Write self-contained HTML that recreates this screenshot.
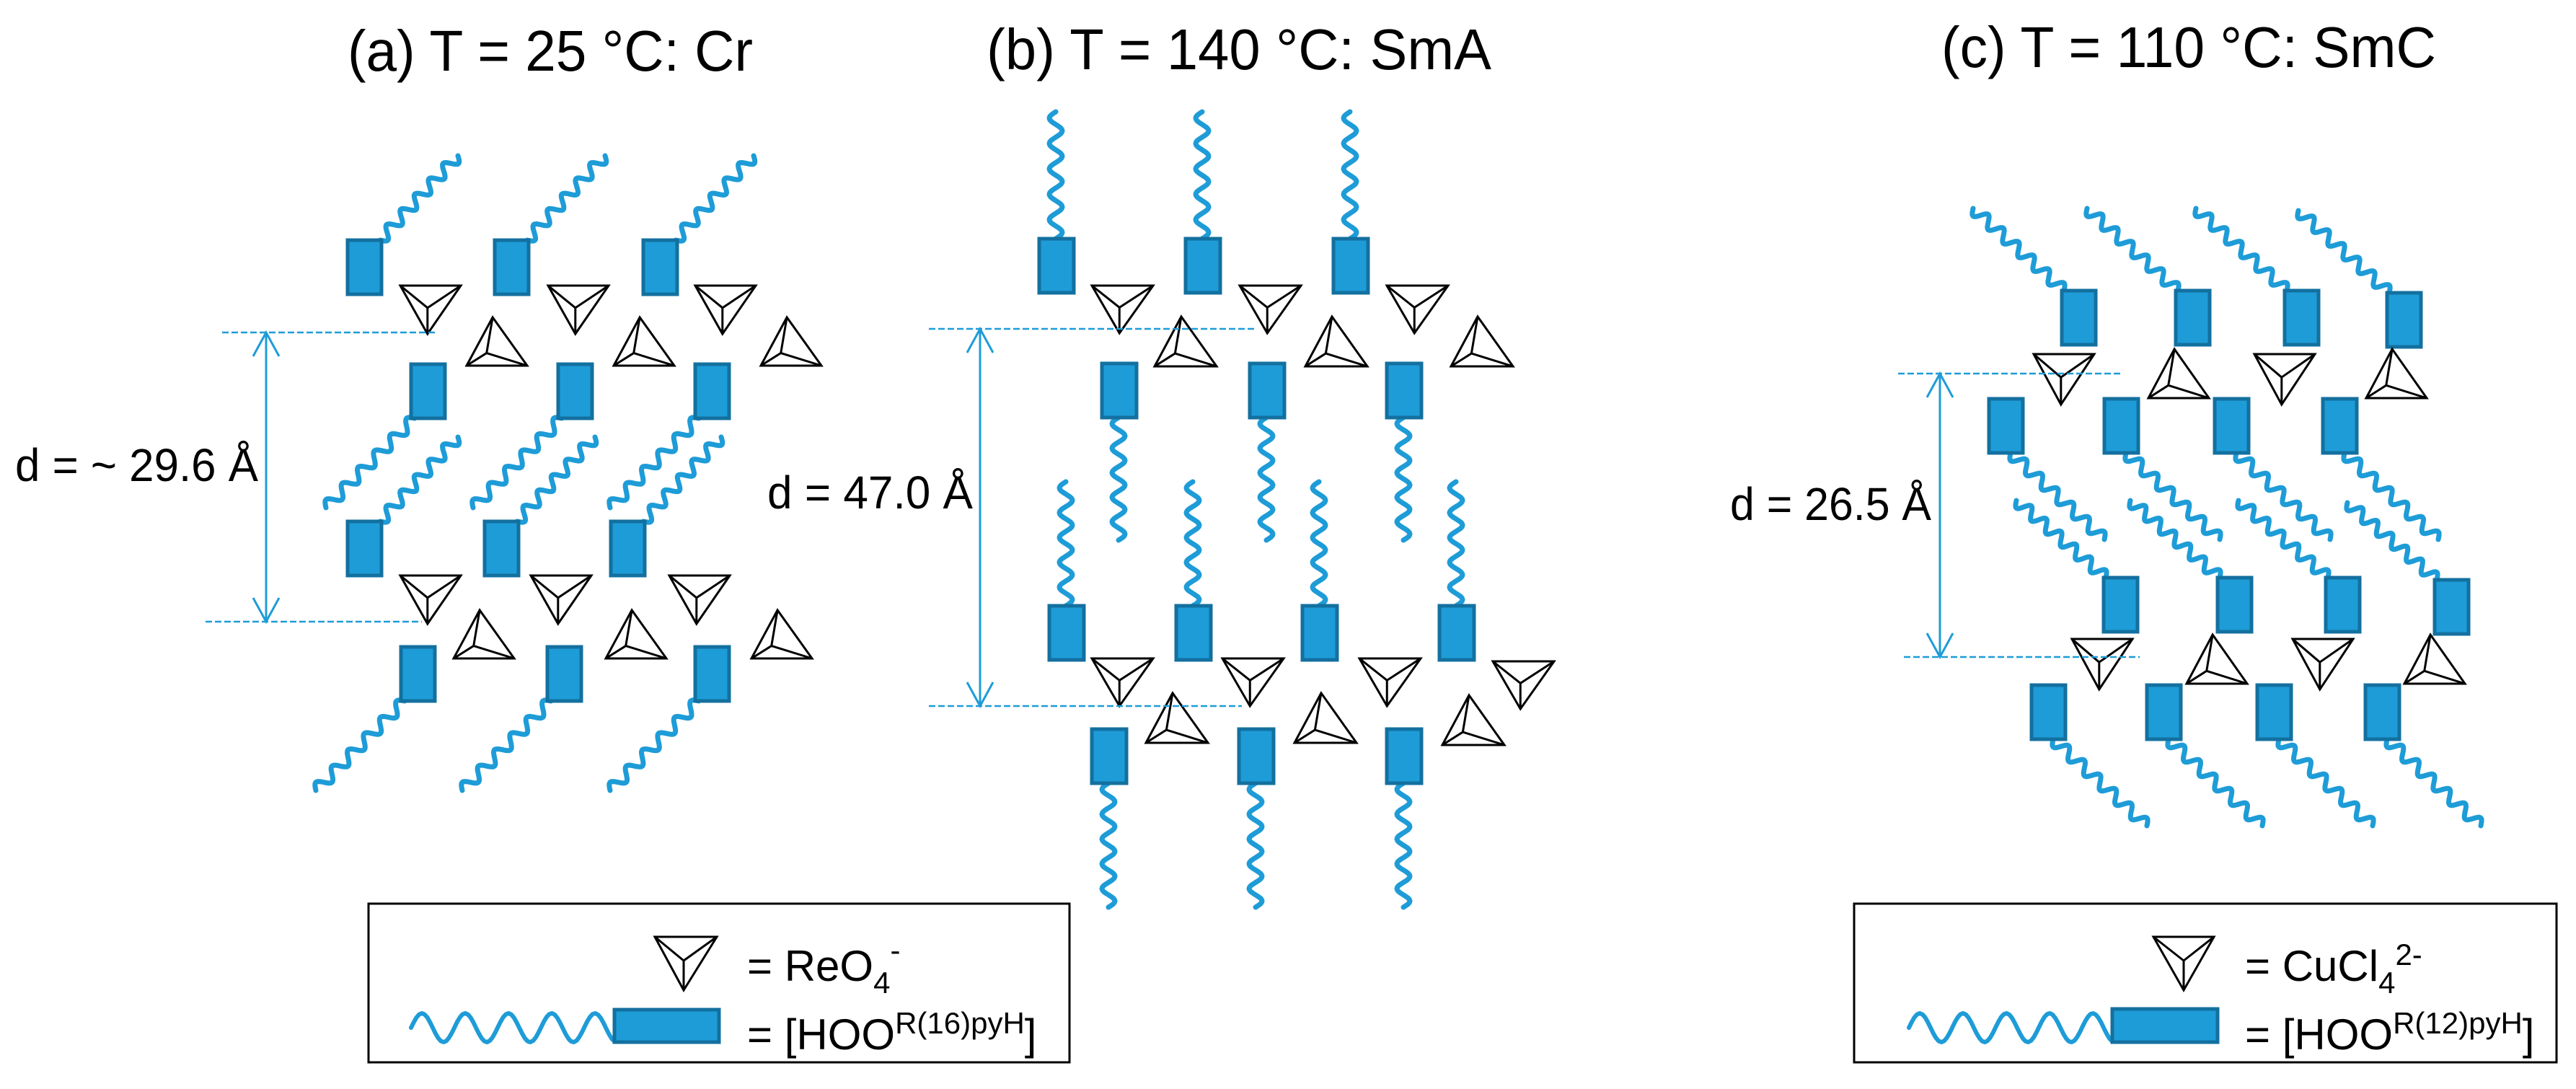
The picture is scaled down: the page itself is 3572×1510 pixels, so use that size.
<!DOCTYPE html>
<html><head><meta charset="utf-8"><style>
html,body{margin:0;padding:0;background:#fff;}
svg{display:block;}
text{font-family:"Liberation Sans",sans-serif;fill:#000;}
</style></head><body>
<svg id="s" width="3572" height="1510" viewBox="0 0 3572 1510" xmlns="http://www.w3.org/2000/svg">
<g id="tails" fill="none" stroke="#1e9cd7" stroke-width="7" stroke-linecap="round" stroke-linejoin="round"></g>
<g id="rects" fill="#1e9cd7" stroke="#13709f" stroke-width="5"></g>
<g id="tris" fill="#fff" stroke="#000" stroke-width="3" stroke-linejoin="miter"></g>
<g id="dims" fill="none" stroke="#1e9cd7" stroke-width="3"></g>
<text x="482" y="98" font-size="80" textLength="562" lengthAdjust="spacingAndGlyphs">(a) T = 25 °C: Cr</text>
<text x="1368" y="96" font-size="80" textLength="700" lengthAdjust="spacingAndGlyphs">(b) T = 140 °C: SmA</text>
<text x="2692" y="93" font-size="80" textLength="686" lengthAdjust="spacingAndGlyphs">(c) T = 110 °C: SmC</text>
<text x="21" y="667" font-size="64" textLength="337" lengthAdjust="spacingAndGlyphs">d = ~ 29.6 Å</text>
<text x="1064" y="705" font-size="64" textLength="285" lengthAdjust="spacingAndGlyphs">d = 47.0 Å</text>
<text x="2399" y="721" font-size="64" textLength="279" lengthAdjust="spacingAndGlyphs">d = 26.5 Å</text>
<rect x="511" y="1253" width="972" height="220" fill="none" stroke="#000" stroke-width="3"/>
<rect x="2571" y="1253" width="974" height="220" fill="none" stroke="#000" stroke-width="3"/>
<text x="1036" y="1360" font-size="60">= ReO<tspan font-size="42" dy="17">4</tspan><tspan font-size="42" dy="-45">-</tspan></text>
<text x="1036" y="1455" font-size="60">= [HOO<tspan font-size="42" dy="-22">R(16)pyH</tspan><tspan dy="22">]</tspan></text>
<text x="3113" y="1360" font-size="60">= CuCl<tspan font-size="42" dy="17">4</tspan><tspan font-size="42" dy="-39">2-</tspan></text>
<text x="3113" y="1455" font-size="60">= [HOO<tspan font-size="42" dy="-22">R(12)pyH</tspan><tspan dy="22">]</tspan></text>
</svg>
<script>
var NS="http://www.w3.org/2000/svg";
function el(g,tag,a){var e=document.createElementNS(NS,tag);for(var k in a)e.setAttribute(k,a[k]);document.getElementById(g).appendChild(e);return e;}
function wave(x0,y0,x1,y1,per,amp,sw){var dx=x1-x0,dy=y1-y0,L=Math.sqrt(dx*dx+dy*dy),nx=-dy/L,ny=dx/L,n=Math.round(per*16),d="";
for(var i=0;i<=n;i++){var t=i/n,o=amp*Math.sin(t*per*2*Math.PI);d+=(i?"L":"M")+(x0+dx*t+nx*o).toFixed(1)+","+(y0+dy*t+ny*o).toFixed(1);}
var p=el("tails","path",{d:d});if(sw)p.setAttribute("stroke-width",sw);}
function R(x,y,w,h){el("rects","rect",{x:x,y:y,width:w,height:h});}
function T(t,x,y,w,h){var A,Lp,Rp,I;
if(t=="d"){Lp=[x,y];Rp=[x+w,y];A=[x+0.45*w,y+h];I=[x+0.45*w,y+0.46*h];}
else{A=[x+0.43*w,y];Lp=[x,y+h];Rp=[x+w,y+h];I=[x+0.33*w,y+0.74*h];}
el("tris","polygon",{points:Lp+" "+Rp+" "+A});
el("tris","path",{d:"M"+I+"L"+Lp+"M"+I+"L"+Rp+"M"+I+"L"+A,fill:"none"});}
function dim(x,y1,y2,dl){el("dims","line",{x1:x,y1:y1,x2:x,y2:y2});
el("dims","path",{d:"M"+(x-18)+","+(y1+33)+"L"+x+","+y1+"L"+(x+18)+","+(y1+33)});
el("dims","path",{d:"M"+(x-18)+","+(y2-33)+"L"+x+","+y2+"L"+(x+18)+","+(y2-33)});
dl.forEach(function(l){el("dims","line",{x1:l[0],y1:l[2],x2:l[1],y2:l[2],"stroke-dasharray":"9,4","stroke-width":"2.5"});});}
// Panel a
[[482,333],[686,333],[892,333],[482,723],[672,723],[847,723]].forEach(function(p){wave(p[0]+45,p[1],p[0]+45+108,p[1]-117,5.5,8);R(p[0],p[1],47,75);});
[[570,505],[774,505],[964,505],[556,897],[759,897],[964,897]].forEach(function(p){wave(p[0]+5,p[1]+75,p[0]+5-123,p[1]+75+124,5.5,8);R(p[0],p[1],47,75);});
[[555,396],[760,396],[964,396],[555,798],[736,798],[928,798]].forEach(function(p){T("d",p[0],p[1],84,67);});
[[647,440],[851,440],[1055,440],[629,846],[840,846],[1042,846]].forEach(function(p){T("u",p[0],p[1],84,67);});
dim(369,461,862,[[308,605,461],[285,585,862]]);
// Panel b
[[1441,331,155],[1644,331,155],[1849,331,155],[1455,840,668],[1631,840,668],[1806,840,668],[1996,840,668]].forEach(function(p){wave(p[0]+23,p[1],p[0]+23,p[2],5,9);R(p[0],p[1],48,75);});
[[1528,504,749],[1733,504,749],[1923,504,749],[1514,1011,1258],[1718,1011,1258],[1923,1011,1258]].forEach(function(p){wave(p[0]+23,p[1]+75,p[0]+23,p[2],5,9);R(p[0],p[1],48,75);});
[[1514,396],[1719,396],[1923,396],[1514,913],[1695,913],[1885,913],[2070,917]].forEach(function(p){T("d",p[0],p[1],85,66);});
[[1601,439],[1810,439],[2012,439],[1589,961],[1795,961],[2000,964]].forEach(function(p){T("u",p[0],p[1],86,69);});
dim(1359,456,979,[[1288,1741,456],[1288,1722,979]]);
// Panel c
[[2859,403],[3017,403],[3168,403],[3310,406],[2917,801],[3075,801],[3225,801],[3376,804]].forEach(function(p,i){var v=i<4?[-126,-114]:[-124,-107];wave(p[0]+3,p[1],p[0]+3+v[0],p[1]+v[1],6,8);R(p[0],p[1],47,75);});
[[2758,553],[2918,553],[3071,553],[3221,553],[2817,950],[2977,950],[3130,950],[3280,950]].forEach(function(p){wave(p[0]+30,p[1]+75,p[0]+30+130,p[1]+75+120,6,8);R(p[0],p[1],47,75);});
[[2820,491],[3126,491],[2873,886],[3179,886]].forEach(function(p){T("d",p[0],p[1],84,70);});
[[2979,484],[3281,484],[3032,880],[3334,880]].forEach(function(p){T("u",p[0],p[1],84,68);});
dim(2690,518,911,[[2632,2942,518],[2640,2967,911]]);
// Legends
wave(570,1425,852,1425,4.7,-20,6);R(852,1400,145,45);
el("tris","polygon",{points:"908,1299 994,1299 948,1373"});el("tris","path",{d:"M948,1332L908,1299M948,1332L994,1299M948,1332L948,1373",fill:"none"});
wave(2647,1425,2929,1425,4.7,-20,6);R(2929,1399,146,46);
el("tris","polygon",{points:"2986,1299 3070,1299 3028,1373"});el("tris","path",{d:"M3028,1332L2986,1299M3028,1332L3070,1299M3028,1332L3028,1373",fill:"none"});
</script>
</body></html>
